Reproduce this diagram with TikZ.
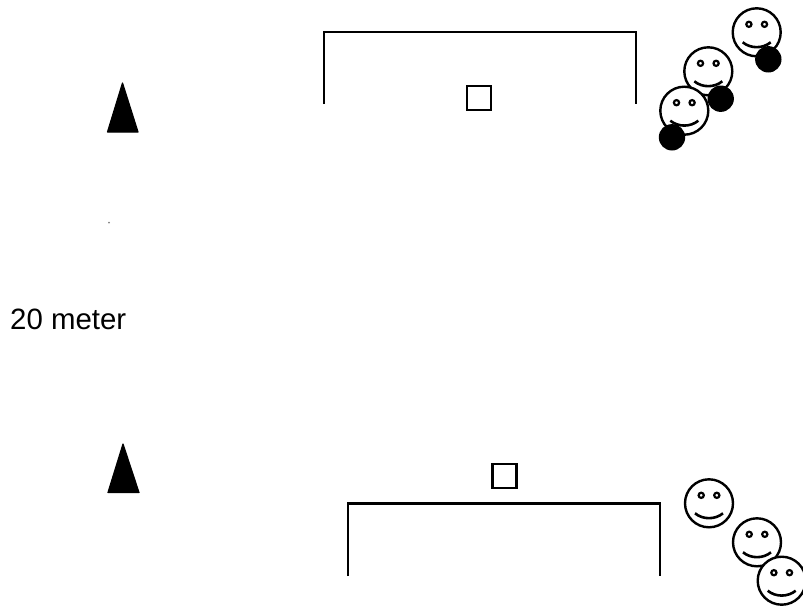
\documentclass[tikz,border=0pt]{standalone}
\usepackage{fontspec}
\setmainfont{Liberation Sans}
\tikzset{
  goalline/.style={draw=black,line width=2.2pt,line cap=butt,line join=miter},
  marker/.style={draw=black,line width=2.4pt,fill=white},
  cone/.style={fill=black,draw=black,line width=1.2pt,line join=round},
  ball/.style={fill=black},
  smiley/.pic={
    \fill[white] (0,0) circle (24.5);
    \draw[line width=2.4pt] (0,0) circle (24);
    \draw[line width=2.2pt] (-7.8,-8) circle (2.6);
    \draw[line width=2.2pt] (7.8,-8) circle (2.6);
    \draw[line width=2.6pt] (-14,10) .. controls (-6,16.5) and (6,16.5) .. (14,10);
  }
}
\begin{document}
\begin{tikzpicture}[x=1pt,y=-1pt]
\useasboundingbox (0,0) rectangle (803,605);
% goals
\draw[goalline] (324,104) -- (324,32) -- (636,32) -- (636,104);
\draw[goalline] (348,576) -- (348,503.5) -- (660,503.5) -- (660,576);
% markers
\draw[marker] (467.2,86) rectangle (491,110);
\draw[marker] (492.3,464.2) rectangle (516.5,488);
% cones
\path[cone] (122.5,83) -- (138,132) -- (107.5,132) -- cycle;
\path[cone] (123,444) -- (139,492.5) -- (108,492.5) -- cycle;
\fill[gray] (109,222.5) circle (1);
% text
\node[anchor=base west,inner sep=0pt,font=\fontsize{29.4}{32}\selectfont] (label) at (10,329) {20 meter};
% top smileys
\pic at (756.7,32.3) {smiley};
\fill[ball] (768.3,59.3) circle (13.2);
\pic at (708.3,71.3) {smiley};
\pic at (684.3,110.7) {smiley};
\fill[ball] (720.7,98.7) circle (13.2);
\fill[ball] (672,137.3) circle (13.2);
% bottom smileys
\pic at (709,503.3) {smiley};
\pic at (757,542.3) {smiley};
\pic at (781.7,580.7) {smiley};
\end{tikzpicture}
\end{document}
